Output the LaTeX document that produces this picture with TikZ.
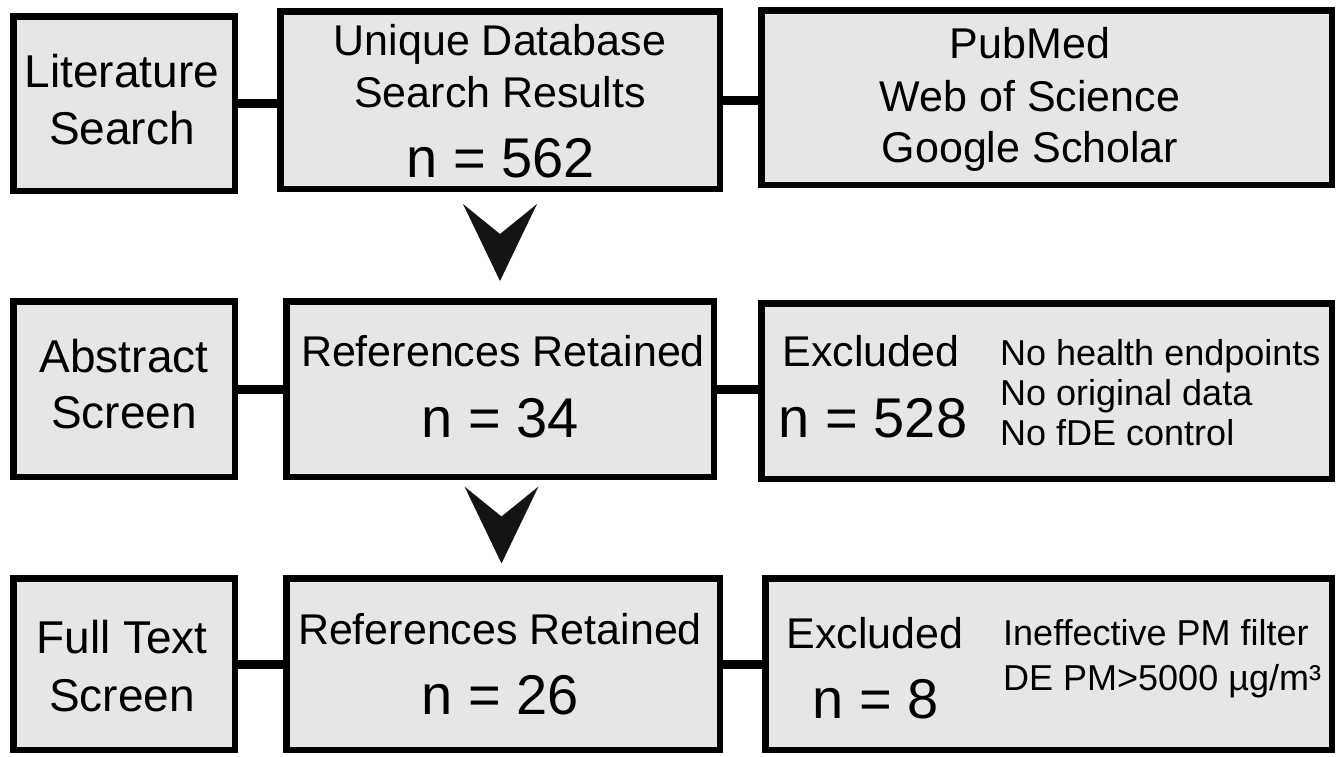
\documentclass[tikz,border=0pt]{standalone}
\usepackage{fontspec}
\setmainfont{Liberation Sans}
\usetikzlibrary{calc}
\definecolor{boxgray}{HTML}{E6E6E6}
\begin{document}
\begin{tikzpicture}[x=1pt,y=-1pt,
  box/.style={draw=black, fill=boxgray, line width=6.5pt, rectangle, inner sep=0pt},
  link/.style={draw=black, line width=9pt},
  chev/.style={fill=black!92},
  stage/.style={font=\fontsize{46}{50}\selectfont, anchor=base, inner sep=0pt},
  head/.style={font=\fontsize{43}{47}\selectfont, anchor=base, inner sep=0pt},
  count/.style={font=\fontsize{56}{60}\selectfont, anchor=base, inner sep=0pt},
  note/.style={font=\fontsize{36}{40}\selectfont, anchor=base west, inner sep=0pt}]
\useasboundingbox (0,0) rectangle (1342,756);

% ---- row 1: literature search
\node[box, minimum width=221.5pt, minimum height=174.5pt] (L1) at (124,103.5) {};
\node[box, minimum width=439.5pt, minimum height=177.5pt] (U1) at (500,100) {};
\node[box, minimum width=570.5pt, minimum height=174.5pt] (P1) at (1046.5,97.5) {};
\draw[link] (L1.east) -- (L1.east -| U1.west);
\draw[link] (U1.east) -- (U1.east -| P1.west);

\node[stage] (t11) at (122,87) {Literature};
\node[stage] (t12) at (122,144) {Search};
\node[head] (t13) at (500,55) {Unique Database};
\node[head] (t14) at (500,107) {Search Results};
\node[count] (t15) at (501,177) {n = 562};
\node[head] (t16) at (1030,58) {PubMed};
\node[head] (t17) at (1030,111) {Web of Science};
\node[head] (t18) at (1030,162) {Google Scholar};

% ---- row 2: abstract screen
\node[box, minimum width=221.5pt, minimum height=175.5pt] (L2) at (124,389) {};
\node[box, minimum width=427.5pt, minimum height=175.5pt] (R2) at (500,389) {};
\node[box, minimum width=570.5pt, minimum height=175.5pt] (E2) at (1046.5,391) {};
\draw[link] (L2.east) -- (L2.east -| R2.west);
\draw[link] (R2.east) -- (R2.east -| E2.west);

\node[stage] (t21) at (124,372) {Abstract};
\node[stage] (t22) at (124,428) {Screen};
\node[head] (t23) at (503,366) {References Retained};
\node[count] (t24) at (500,437) {n = 34};
\node[head] (t25) at (871,366) {Excluded};
\node[count] (t26) at (873,437) {n = 528};
\node[note] (t27) at (1000,365) {No health endpoints};
\node[note] (t28) at (1000,405) {No original data};
\node[note] (t29) at (1000,445) {No fDE control};

% ---- row 3: full text screen
\node[box, minimum width=221.5pt, minimum height=171.5pt] (L3) at (124,664) {};
\node[box, minimum width=433.5pt, minimum height=171.5pt] (R3) at (503,664) {};
\node[box, minimum width=566.5pt, minimum height=171.5pt] (E3) at (1048.5,664) {};
\draw[link] (L3.east) -- (L3.east -| R3.west);
\draw[link] (R3.east) -- (R3.east -| E3.west);

\node[stage] (t31) at (122,653) {Full Text};
\node[stage] (t32) at (122,711) {Screen};
\node[head] (t33) at (500,644) {References Retained};
\node[count] (t34) at (500,714) {n = 26};
\node[head] (t35) at (875,648) {Excluded};
\node[count] (t36) at (876,718) {n = 8};
\node[note] (t37) at (1003,645) {Ineffective PM filter};
\node[note] (t38) at (1003,690) {DE PM>5000 µg/m³};

% ---- chevrons between the stages
\coordinate (c1) at ($(U1.south)!0.5!(R2.north)$);
\coordinate (c2) at ($(R2.south)!0.5!(R3.north)$);
\foreach \c in {c1,c2}{
  \fill[chev] ($(\c)+(-37,-41)$) -- ($(\c)+(0,-11)$) -- ($(\c)+(37,-41)$) -- ($(\c)+(0,36)$) -- cycle;
}
\end{tikzpicture}
\end{document}
